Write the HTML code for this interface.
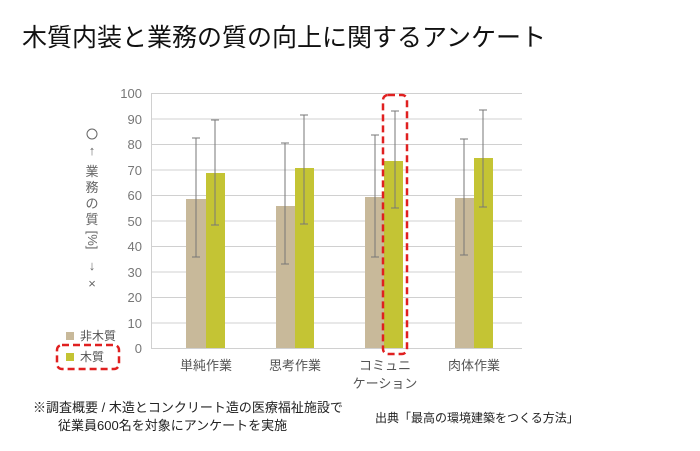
<!DOCTYPE html>
<html><head><meta charset="utf-8"><style>
body{margin:0;background:#fff;width:700px;height:446px;overflow:hidden;font-family:"Liberation Sans","Noto Sans CJK JP",sans-serif}
</style></head><body>
<svg width="700" height="446" xmlns="http://www.w3.org/2000/svg" font-family="Liberation Sans, Noto Sans CJK JP, sans-serif">
<text x="22" y="46" font-size="25" fill="#111">木質内装と業務の質の向上に関するアンケート</text>
<g stroke="#d0d0d0" stroke-width="1">
<line x1="151" y1="93.5" x2="522" y2="93.5"/><line x1="151" y1="119" x2="522" y2="119"/>
<line x1="151" y1="144.5" x2="522" y2="144.5"/><line x1="151" y1="170" x2="522" y2="170"/>
<line x1="151" y1="195.5" x2="522" y2="195.5"/><line x1="151" y1="221" x2="522" y2="221"/>
<line x1="151" y1="246.5" x2="522" y2="246.5"/><line x1="151" y1="272" x2="522" y2="272"/>
<line x1="151" y1="297.5" x2="522" y2="297.5"/><line x1="151" y1="323" x2="522" y2="323"/>
<line x1="151" y1="348.5" x2="522" y2="348.5"/>
<line x1="151.5" y1="93" x2="151.5" y2="349"/>
</g>
<g font-size="13" fill="#777" text-anchor="end">
<text x="142" y="98">100</text><text x="142" y="124">90</text><text x="142" y="149">80</text>
<text x="142" y="175">70</text><text x="142" y="200">60</text><text x="142" y="226">50</text>
<text x="142" y="251">40</text><text x="142" y="277">30</text><text x="142" y="302">20</text>
<text x="142" y="328">10</text><text x="142" y="353">0</text>
</g>
<g font-size="13" fill="#666" text-anchor="middle">
<circle cx="92" cy="134" r="5" fill="none" stroke="#666" stroke-width="1"/>
<text x="92" y="155">↑</text>
<text x="92" y="176">業</text><text x="92" y="192">務</text><text x="92" y="208">の</text><text x="92" y="224">質</text>
<text x="92" y="244" transform="rotate(90 92 240)">[%]</text>
<text x="92" y="270">↓</text><text x="92" y="288">×</text>
</g>
<g fill="#c8b99a">
<rect x="186" y="199" width="20" height="149"/><rect x="276" y="206" width="19" height="142"/>
<rect x="365" y="197" width="19" height="151"/><rect x="455" y="198" width="19" height="150"/>
</g>
<g fill="#c4c434">
<rect x="206" y="173" width="19" height="175"/><rect x="295" y="168" width="19" height="180"/>
<rect x="384" y="161" width="19" height="187"/><rect x="474" y="158" width="19" height="190"/>
</g>
<g stroke="#777" stroke-width="1">
<path d="M196 138V257M192 138H200M192 257H200"/>
<path d="M215 120V225M211 120H219M211 225H219"/>
<path d="M285 143V264M281 143H289M281 264H289"/>
<path d="M304 115V224M300 115H308M300 224H308"/>
<path d="M375 135V257M371 135H379M371 257H379"/>
<path d="M395 111V208M391 111H399M391 208H399"/>
<path d="M464 139V255M460 139H468M460 255H468"/>
<path d="M483 110V207M479 110H487M479 207H487"/>
</g>
<rect x="383" y="95" width="24" height="259" rx="5" fill="none" stroke="#e02020" stroke-width="2.5" stroke-dasharray="7,4"/>
<g font-size="13" fill="#555" text-anchor="middle">
<text x="206" y="370">単純作業</text><text x="295" y="370">思考作業</text>
<text x="385" y="370">コミュニ</text><text x="385" y="388">ケーション</text>
<text x="474" y="370">肉体作業</text>
</g>
<rect x="66" y="332" width="8" height="8" fill="#c8b99a"/>
<text x="80" y="340" font-size="12" fill="#555">非木質</text>
<rect x="66" y="353" width="8" height="8" fill="#c4c434"/>
<text x="80" y="361" font-size="12" fill="#555">木質</text>
<rect x="57" y="345" width="62" height="24" rx="5" fill="none" stroke="#e02020" stroke-width="2.5" stroke-dasharray="7,4"/>
<text x="33" y="412" font-size="13" fill="#222">※調査概要 / 木造とコンクリート造の医療福祉施設で</text>
<text x="58" y="430" font-size="13" fill="#222">従業員600名を対象にアンケートを実施</text>
<text x="375" y="422" font-size="12" fill="#222">出典「最高の環境建築をつくる方法」</text>
</svg>
</body></html>
